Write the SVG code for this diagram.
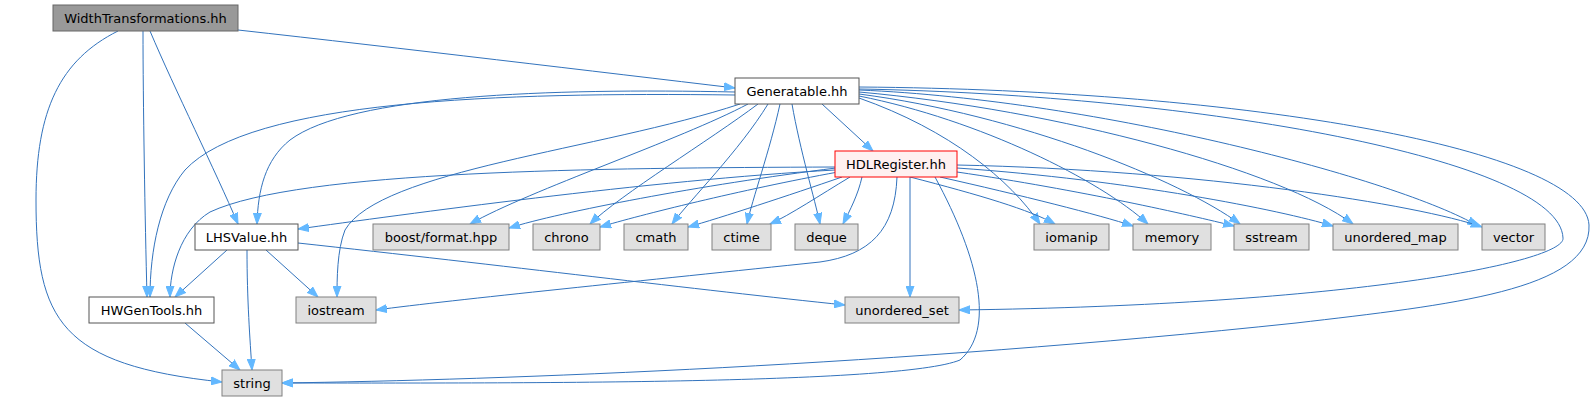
<svg xmlns="http://www.w3.org/2000/svg" width="1596" height="403" viewBox="0 0 1596 403">
<style>
.n rect{stroke-width:1}
.root rect{fill:#999999;stroke:#666666}
.doc rect{fill:#ffffff;stroke:#555555}
.ext rect{fill:#e0e0e0;stroke:#808080}
.trunc rect{fill:#fff0f0;stroke:#ff0000}
text{font-family:"DejaVu Sans","Liberation Sans",sans-serif;font-size:13px;fill:#000;text-anchor:middle}
.e path{fill:none;stroke:#3273bd;stroke-width:1;marker-end:url(#a)}
</style>
<defs>
<marker id="a" markerUnits="userSpaceOnUse" markerWidth="12" markerHeight="9" refX="11" refY="4.5" orient="auto">
<path d="M0,0.5 L11,4.5 L0,8.5 z" fill="#63b8ff" stroke="#63b8ff" stroke-width="1"/>
</marker>
</defs>
<g id="edges" class="e">
<path d="M238,30 C400,48 600,72 735,88"/>
<path d="M118,31 C60,60 36,110 36,200 C36,320 60,365 222,382"/>
<path d="M143,31 C143,100 145,220 147,297"/>
<path d="M150,31 C175,90 215,170 238,224"/>
<path d="M735,92 C550,88 350,95 290,140 C265,160 258,190 257,224"/>
<path d="M735,95 C500,92 250,100 185,170 C160,200 150,250 150,297"/>
<path d="M822,104 L873,151"/>
<path d="M748,104 C680,140 530,190 470,224"/>
<path d="M758,104 C710,140 620,195 590,224"/>
<path d="M768,104 C740,150 690,200 672,224"/>
<path d="M780,104 C770,150 752,200 747,224"/>
<path d="M792,104 C800,150 815,200 820,224"/>
<path d="M859,98 C950,130 1010,180 1040,224"/>
<path d="M859,96 C980,120 1100,180 1148,224"/>
<path d="M859,94 C1020,115 1180,180 1240,224"/>
<path d="M859,92 C1060,110 1280,170 1353,224"/>
<path d="M859,90 C1100,100 1400,180 1478,226"/>
<path d="M740,104 C600,150 380,170 345,230 C337,250 337,280 337,297"/>
<path d="M859,89 C1200,95 1560,160 1563,238 C1566,262 1350,305 959,310"/>
<path d="M859,87 C1250,90 1585,150 1589,225 C1592,290 1450,305 1296,323 C900,365 500,380 282,383"/>
<path d="M835,170 C650,180 400,215 298,229"/>
<path d="M835,167 C600,168 300,170 210,212 C180,230 170,270 170,297"/>
<path d="M836,168 C700,185 560,212 509,228"/>
<path d="M838,172 C740,190 640,215 600,227"/>
<path d="M842,177 C790,195 720,218 688,227"/>
<path d="M850,177 C820,195 790,215 770,224"/>
<path d="M862,177 C858,195 850,210 843,224"/>
<path d="M910,177 C980,195 1030,210 1055,224"/>
<path d="M940,177 C1020,195 1100,215 1133,226"/>
<path d="M957,172 C1080,190 1190,215 1234,226"/>
<path d="M957,168 C1130,180 1280,210 1333,226"/>
<path d="M957,165 C1200,170 1420,205 1482,227"/>
<path d="M897,177 C895,230 870,255 820,262 C650,280 450,300 376,310"/>
<path d="M910,177 L910,297"/>
<path d="M935,177 C980,260 995,330 960,360 C900,385 500,383 282,383"/>
<path d="M227,250 L175,297"/>
<path d="M247,250 C247,300 250,340 252,370"/>
<path d="M266,250 L318,297"/>
<path d="M298,243 C500,265 700,290 845,305"/>
<path d="M185,323 L240,370"/>
</g>
<g id="n1" class="n root"><rect x="53" y="5" width="185" height="26"/><text x="145.5" y="22.5">WidthTransformations.hh</text></g>
<g id="n2" class="n doc"><rect x="735" y="78" width="124" height="26"/><text x="797" y="95.5">Generatable.hh</text></g>
<g id="n3" class="n trunc"><rect x="835" y="151" width="122" height="26"/><text x="896" y="168.5">HDLRegister.hh</text></g>
<g id="n4" class="n doc"><rect x="195" y="224" width="103" height="26"/><text x="246.5" y="241.5">LHSValue.hh</text></g>
<g id="n5" class="n ext"><rect x="373" y="224" width="136" height="26"/><text x="441" y="241.5">boost/format.hpp</text></g>
<g id="n6" class="n ext"><rect x="533" y="224" width="67" height="26"/><text x="566.5" y="241.5">chrono</text></g>
<g id="n7" class="n ext"><rect x="624" y="224" width="64" height="26"/><text x="656" y="241.5">cmath</text></g>
<g id="n8" class="n ext"><rect x="712" y="224" width="59" height="26"/><text x="741.5" y="241.5">ctime</text></g>
<g id="n9" class="n ext"><rect x="795" y="224" width="63" height="26"/><text x="826.5" y="241.5">deque</text></g>
<g id="n10" class="n ext"><rect x="1034" y="224" width="75" height="26"/><text x="1071.5" y="241.5">iomanip</text></g>
<g id="n11" class="n ext"><rect x="1133" y="224" width="78" height="26"/><text x="1172" y="241.5">memory</text></g>
<g id="n12" class="n ext"><rect x="1234" y="224" width="75" height="26"/><text x="1271.5" y="241.5">sstream</text></g>
<g id="n13" class="n ext"><rect x="1333" y="224" width="125" height="26"/><text x="1395.5" y="241.5">unordered_map</text></g>
<g id="n14" class="n ext"><rect x="1482" y="224" width="63" height="26"/><text x="1513.5" y="241.5">vector</text></g>
<g id="n15" class="n doc"><rect x="89" y="297" width="125" height="26"/><text x="151.5" y="314.5">HWGenTools.hh</text></g>
<g id="n16" class="n ext"><rect x="296" y="297" width="80" height="26"/><text x="336" y="314.5">iostream</text></g>
<g id="n17" class="n ext"><rect x="845" y="297" width="114" height="26"/><text x="902" y="314.5">unordered_set</text></g>
<g id="n18" class="n ext"><rect x="222" y="370" width="60" height="26"/><text x="252" y="387.5">string</text></g>
</svg>
